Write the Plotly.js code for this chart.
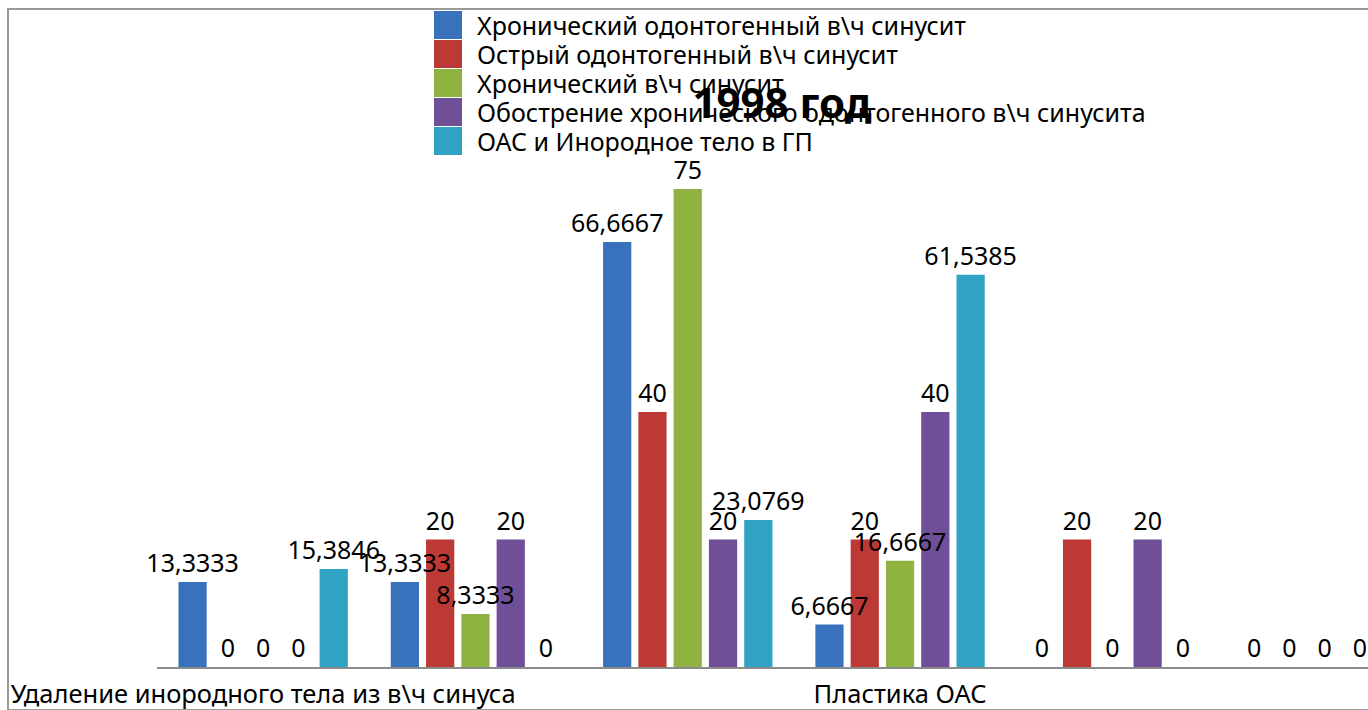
<!DOCTYPE html>
<html>
<head>
<meta charset="utf-8">
<script src="https://cdn.plot.ly/plotly-3.0.1.min.js"></script>
<style>
  html, body { margin: 0; padding: 0; background: #fff; overflow: hidden; }
  #chart { position: absolute; left: 0; top: 0; width: 1368px; height: 710px; }
  #frame { position: absolute; left: 7px; top: 8px; width: 1400px; height: 699px;
           border-left: 2px solid #9a9a9a; border-top: 2px solid #9a9a9a; border-bottom: 2px solid #9a9a9a;
           pointer-events: none; }
</style>
</head>
<body>
<div id="chart"></div>
<div id="frame"></div>
<script>
// Categories (only two labels are shown on the axis in the original)
const categories = [
  "Удаление инородного тела из в\\ч синуса",
  "",
  "",
  "Пластика ОАС",
  "",
  ""
];
const seriesNames = [
  "Хронический одонтогенный в\\ч синусит",
  "Острый одонтогенный в\\ч синусит",
  "Хронический в\\ч синусит",
  "Обострение хронического одонтогенного в\\ч синусита",
  "ОАС и Инородное тело в ГП"
];
const chronicOdontogenic   = [13.3333, 13.3333, 66.6667, 6.6667, 0, 0];
const acuteOdontogenic     = [0, 20, 40, 20, 20, 0];
const chronicSinusitis     = [0, 8.3333, 75, 16.6667, 0, 0];
const exacerbation         = [0, 20, 20, 40, 20, 0];
const oacForeignBody       = [15.3846, 0, 23.0769, 61.5385, 0, 0];
const seriesValues = [chronicOdontogenic, acuteOdontogenic, chronicSinusitis, exacerbation, oacForeignBody];
const colors = ["#3872bd", "#bd3936", "#8fb340", "#6f4f98", "#30a2c3"];
const titleText = "1998 год";

const xIdx = categories.map((_, i) => i);
const tickvals = xIdx.filter(i => categories[i] !== "");
const ticktext = tickvals.map(i => categories[i]);
const fmt = v => String(v).replace(".", ",");

const FONT = "Noto Sans, Open Sans, DejaVu Sans, sans-serif";

// plot-area geometry (pixels)
const PL = 157, PR = 1368, PB = 667, PT = 157;
const px2x = p => (p - PL) / (PR - PL);
const px2y = p => (PB - p) / (PB - PT);

// real bars (no text)
const barTraces = seriesValues.map((vals, k) => ({
  type: "bar",
  name: seriesNames[k],
  x: xIdx,
  y: vals,
  offsetgroup: "g" + k,
  marker: { color: colors[k], line: { width: 0 } },
  showlegend: false,
  hoverinfo: "skip"
}));
// transparent copies carrying the data labels, drawn on top of all bars
const labelTraces = seriesValues.map((vals, k) => ({
  type: "bar",
  name: seriesNames[k] + " (labels)",
  x: xIdx,
  y: vals,
  offsetgroup: "g" + k,
  text: vals.map(fmt),
  textposition: "outside",
  textfont: { family: FONT, size: 25, color: "#000" },
  cliponaxis: false,
  constraintext: "none",
  marker: { color: "rgba(0,0,0,0)", line: { width: 0 } },
  showlegend: false,
  hoverinfo: "skip"
}));

// legend (large square keys like the original)
const legTop = 11, legStep = 29, legSize = 28, legX = 434, legTextX = 475;
const legendShapes = seriesNames.map((n, k) => ({
  type: "rect", xref: "paper", yref: "paper",
  x0: px2x(legX), x1: px2x(legX + legSize),
  y0: px2y(legTop + k * legStep), y1: px2y(legTop + k * legStep + legSize),
  fillcolor: colors[k], line: { width: 0 }, layer: "above"
}));
const legendAnn = seriesNames.map((n, k) => ({
  text: n, showarrow: false, xref: "paper", yref: "paper",
  x: px2x(legTextX), xanchor: "left",
  y: px2y(legTop + k * legStep + legSize / 2), yanchor: "middle",
  font: { family: FONT, size: 25, color: "#000" }
}));

const layout = {
  width: 1368,
  height: 710,
  margin: { l: PL, r: 0, t: PT, b: 710 - PB, pad: 0 },
  paper_bgcolor: "#ffffff",
  plot_bgcolor: "#ffffff",
  font: { family: FONT, size: 25, color: "#000" },
  barmode: "group",
  bargap: 0.169,
  bargroupgap: 0.2,
  title: {
    text: "<b>" + titleText + "</b>",
    font: { family: FONT, size: 42, color: "#000" },
    xref: "container", yref: "container",
    x: 782 / 1368, xanchor: "center",
    y: 1 - 103 / 710, yanchor: "middle"
  },
  xaxis: {
    range: [-0.5, -0.5 + (PR - PL) / 212.3],
    tickvals: tickvals,
    ticktext: ticktext,
    ticks: "",
    ticklabelstandoff: 3,
    showgrid: false,
    zeroline: false,
    showline: true,
    linecolor: "#8c8c8c",
    linewidth: 2,
    tickfont: { family: FONT, size: 25.5, color: "#000" },
    fixedrange: true
  },
  yaxis: {
    range: [0, 80],
    showgrid: false,
    zeroline: false,
    showline: false,
    showticklabels: false,
    ticks: "",
    fixedrange: true
  },
  showlegend: false,
  shapes: legendShapes,
  annotations: legendAnn
};

Plotly.newPlot("chart", barTraces.concat(labelTraces), layout, { displayModeBar: false, staticPlot: true });
</script>
</body>
</html>
